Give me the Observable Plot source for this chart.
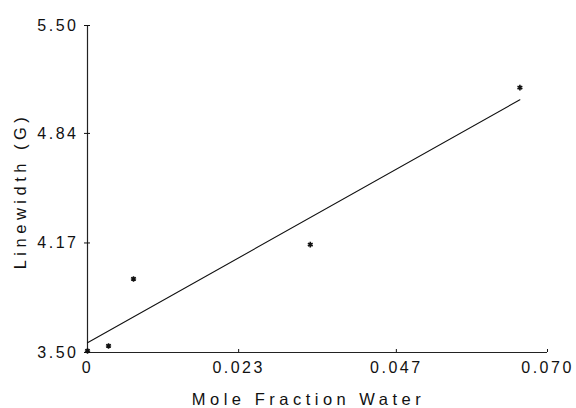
<!DOCTYPE html>
<html>
<head>
<meta charset="utf-8">
<script src="https://cdn.jsdelivr.net/npm/d3@7"></script>
<script src="https://cdn.jsdelivr.net/npm/@observablehq/plot@0.6"></script>
<style>
  html, body { margin: 0; padding: 0; background: #fff; }
  #chart svg text { font-family: "Liberation Sans", Arial, sans-serif; }
</style>
</head>
<body>
<div id="chart"></div>
<script>
// Data
const moleFraction = [0, 0.0032, 0.0070, 0.0339, 0.0658];
const linewidth    = [3.51, 3.54, 3.95, 4.16, 5.12];

// Fitted line end points (as drawn)
const fitX = [0, 0.0658];
const fitY = [3.559, 5.046];

const xTicks = [0, 0.023, 0.047, 0.070];
const xTickLabels = ["0", "0.023", "0.047", "0.070"];
const yTicks = [3.50, 4.17, 4.84, 5.50];
const yTickLabels = ["3.50", "4.17", "4.84", "5.50"];

const xTitle = "Mole Fraction Water";
const yTitle = "Linewidth (G)";

const points = moleFraction.map((x, i) => ({x, y: linewidth[i]}));
const fit = fitX.map((x, i) => ({x, y: fitY[i]}));

const chart = Plot.plot({
  width: 576,
  height: 408,
  marginLeft: 87,
  marginRight: 29,
  marginTop: 25,
  marginBottom: 56,
  style: {background: "#fff", color: "#111", fontSize: "16px"},
  x: {domain: [0, 0.070]},
  y: {domain: [3.50, 5.50]},
  marks: [
    Plot.ruleX([0], {stroke: "#222", strokeWidth: 1.2}),
    Plot.ruleY([3.50], {stroke: "#222", strokeWidth: 1.2}),
    Plot.axisY({ticks: yTicks, tickFormat: (d, i) => yTickLabels[i], tickSize: 6, dx: 3, tickPadding: 6, label: null, fontSize: 16}),
    Plot.axisX({ticks: xTicks, tickFormat: (d, i) => xTickLabels[i], tickSize: 3, dy: -3, tickPadding: 9, label: null, fontSize: 16}),
    Plot.line(fit, {x: "x", y: "y", stroke: "#111", strokeWidth: 1.1}),
    Plot.dot(points, {x: "x", y: "y", symbol: "asterisk", r: 2.6, stroke: "#111", strokeWidth: 1.6}),
    Plot.text([xTitle], {frameAnchor: "bottom", text: d => d, dx: -9, dy: 52, lineAnchor: "bottom", textAnchor: "middle", fontSize: 16.5, fill: "#111"}),
    Plot.text([yTitle], {frameAnchor: "left", text: d => d, rotate: -90, dx: -62, dy: 2, lineAnchor: "bottom", textAnchor: "middle", fontSize: 16.5, fill: "#111"})
  ]
});

document.getElementById("chart").appendChild(chart);

// letter spacing like the typewriter-style original
d3.select(chart).selectAll("g[aria-label='y-axis tick label'] text, g[aria-label='x-axis tick label'] text")
  .style("letter-spacing", "2.5px");
d3.select(chart).selectAll("g[aria-label='text'] text")
  .style("letter-spacing", "4.5px");
</script>
</body>
</html>
